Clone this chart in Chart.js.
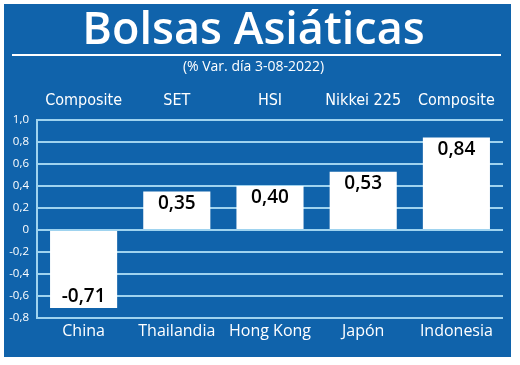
<!DOCTYPE html>
<html>
<head>
<meta charset="utf-8">
<script src="https://cdn.jsdelivr.net/npm/chart.js@4"></script>
<style>
  html, body { margin: 0; padding: 0; background: #ffffff; }
  #wrap { width: 520px; height: 365px; position: relative; }
</style>
</head>
<body>
<div id="wrap"><canvas id="c" width="520" height="365"></canvas></div>
<script>
const countries = ["China", "Thailandia", "Hong Kong", "Japón", "Indonesia"];
const indices = ["Composite", "SET", "HSI", "Nikkei 225", "Composite"];
const changes = [-0.71, 0.35, 0.40, 0.53, 0.84];
const valueLabels = ["-0,71", "0,35", "0,40", "0,53", "0,84"];
const titleText = "Bolsas Asiáticas";
const subtitleText = "(% Var. día 3-08-2022)";

const BLUE = "#1063ab";
const GRID = "#9fd3ef";

const panelPlugin = {
  id: "panel",
  beforeDraw(chart) {
    const ctx = chart.ctx;
    ctx.save();
    ctx.fillStyle = "#ffffff";
    ctx.fillRect(0, 0, chart.width, chart.height);
    ctx.fillStyle = BLUE;
    ctx.fillRect(4, 4, 507, 353);
    ctx.strokeStyle = "#ffffff";
    ctx.lineWidth = 2;
    ctx.beginPath();
    ctx.moveTo(12, 55);
    ctx.lineTo(501, 55);
    ctx.stroke();
    ctx.restore();
  }
};

const valuePlugin = {
  id: "values",
  afterDatasetsDraw(chart) {
    const ctx = chart.ctx;
    const meta = chart.getDatasetMeta(0);
    ctx.save();
    ctx.fillStyle = "#000000";
    ctx.font = "600 19px 'Open Sans', sans-serif";
    ctx.textAlign = "center";
    ctx.textBaseline = "middle";
    meta.data.forEach((bar, i) => {
      const v = changes[i];
      const y = v >= 0 ? bar.y + 12 : bar.y - 12;
      ctx.fillText(valueLabels[i], bar.x, y);
    });
    ctx.restore();
  }
};

new Chart(document.getElementById("c"), {
  type: "bar",
  data: {
    labels: countries,
    datasets: [{
      data: changes,
      backgroundColor: "#ffffff",
      borderWidth: 0,
      barPercentage: 0.72,
      categoryPercentage: 1.0
    }]
  },
  options: {
    responsive: false,
    animation: false,
    devicePixelRatio: 1,
    layout: { padding: { left: 4, right: 17, top: 4, bottom: 0 } },
    plugins: {
      legend: { display: false },
      tooltip: { enabled: false },
      title: {
        display: true,
        text: titleText,
        color: "#ffffff",
        font: { family: "'Open Sans', sans-serif", size: 45, weight: "600", lineHeight: 1.0 },
        padding: { top: 5, bottom: 5 }
      },
      subtitle: {
        display: true,
        text: subtitleText,
        color: "#ffffff",
        font: { family: "'Open Sans', sans-serif", size: 14, weight: "normal", lineHeight: 1.2 },
        padding: { top: 0, bottom: 0 }
      }
    },
    scales: {
      x: {
        position: "bottom",
        grid: { display: false, drawTicks: false },
        border: { display: false },
        ticks: {
          color: "#ffffff",
          font: { family: "'Open Sans', sans-serif", size: 16 },
          padding: 4,
          maxRotation: 0,
          autoSkip: false
        },
        afterFit(axis) { axis.height = 47; }
      },
      x2: {
        type: "category",
        position: "top",
        labels: indices,
        grid: { display: false, drawTicks: false },
        border: { display: false },
        ticks: {
          color: "#ffffff",
          font: { family: "'Liberation Sans Narrow', 'DejaVu Sans Condensed', sans-serif", size: 16 },
          padding: 10,
          maxRotation: 0,
          autoSkip: false
        },
        afterFit(axis) { axis.height = 44.2; }
      },
      y: {
        min: -0.8,
        max: 1.0,
        grid: { color: GRID, lineWidth: 2, drawTicks: false },
        border: { display: true, color: GRID, width: 2 },
        ticks: {
          stepSize: 0.2,
          color: "#ffffff",
          font: { family: "'Open Sans', sans-serif", size: 11.5 },
          padding: 8,
          callback: (v) => Math.abs(v) < 1e-9 ? "0" : v.toFixed(1).replace(".", ",")
        },
        afterFit(axis) { axis.width = 33; }
      }
    }
  },
  plugins: [panelPlugin, valuePlugin]
});
</script>
</body>
</html>
